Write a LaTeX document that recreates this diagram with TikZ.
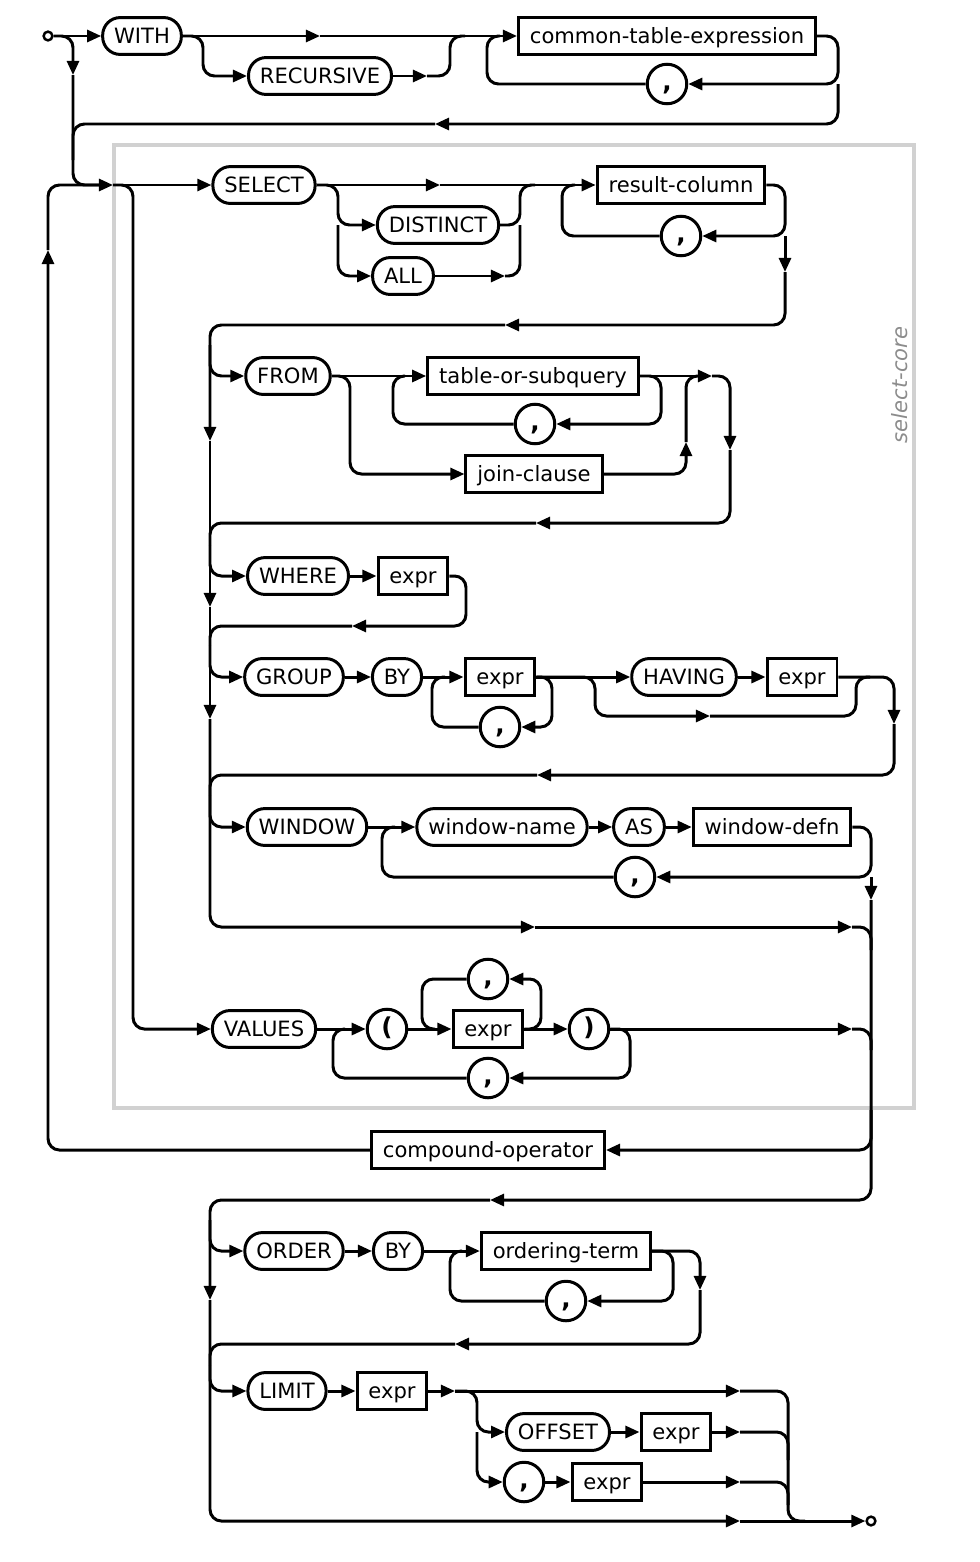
\documentclass[tikz,border=0pt]{standalone}
\usepackage{fontspec}
\setmainfont{DejaVu Sans}
\usetikzlibrary{arrows.meta}
\newcommand\rrfont{\fontsize{12pt}{14pt}\selectfont}
\newcommand\pcfont{\fontsize{14pt}{16pt}\selectfont\bfseries}
\tikzset{
  term/.style={draw, rounded corners=10pt, minimum height=21pt, inner xsep=6.5pt, inner ysep=0pt, text height=11pt, text depth=2pt, line width=1.7pt, font=\rrfont},
  nonterm/.style={draw, rectangle, minimum height=21.5pt, inner xsep=6.5pt, inner ysep=0pt, text height=11pt, text depth=2pt, line width=1.7pt, font=\rrfont},
  punct/.style={draw, circle, minimum size=22.5pt, inner sep=0pt, text height=10.5pt, text depth=3pt, line width=1.7pt, font=\pcfont},
  endpt/.style={draw, circle, minimum size=5pt, inner sep=0pt, line width=1.4pt},
  rail/.style={line width=1.7pt, rounded corners=6.5pt},
  ar/.style={rail, -{Triangle[length=8pt,width=6.8pt]}},
  corebox/.style={draw=black!18, line width=1.8pt},
}
\begin{document}
\begin{tikzpicture}[x=0.02cm,y=-0.02cm]
\useasboundingbox (0,0) rectangle (980,1562);
\draw[corebox] (114,145) rectangle (914,1108);
\node[rotate=90, font=\rrfont\itshape, text=black!45] (corelabel) at (900,385) {select-core};

\node[endpt] (start) at (48,36) {};
\node[term] (with) at (142,36) {WITH};
\node[term] (recursive) at (320,76) {RECURSIVE};
\node[nonterm] (cte) at (667,36) {common-table-expression};
\node[punct] (c1) at (667,84) {,};
\node[term] (select) at (264,185) {SELECT};
\node[term] (distinct) at (438,225) {DISTINCT};
\node[term] (all) at (403,276) {ALL};
\node[nonterm] (rescol) at (681,185) {result-column};
\node[punct] (c2) at (681,236) {,};
\node[term] (from) at (288,376) {FROM};
\node[nonterm] (tos) at (533,376) {table-or-subquery};
\node[punct] (c3) at (535,424) {,};
\node[nonterm] (join) at (534,474) {join-clause};
\node[term] (where) at (298,576) {WHERE};
\node[nonterm] (wexpr) at (413,576) {expr};
\node[term] (group) at (294,677) {GROUP};
\node[term] (gby) at (397,677) {BY};
\node[nonterm] (gexpr) at (500,677) {expr};
\node[punct] (c4) at (500,727) {,};
\node[term] (having) at (684,677) {HAVING};
\node[nonterm] (hexpr) at (802,677) {expr};
\node[term] (window) at (307,827) {WINDOW};
\node[term] (wname) at (502,827) {window-name};
\node[term] (as) at (639,827) {AS};
\node[nonterm] (wdefn) at (772,827) {window-defn};
\node[punct] (c5) at (635,877) {,};
\node[term] (values) at (264,1029) {VALUES};
\node[punct] (lpar) at (387,1029) {(};
\node[nonterm] (vexpr) at (488,1029) {expr};
\node[punct] (c6) at (488,979) {,};
\node[punct] (rpar) at (589,1029) {)};
\node[punct] (c7) at (488,1078) {,};
\node[nonterm] (compop) at (488,1150) {compound-operator};
\node[term] (order) at (294,1251) {ORDER};
\node[term] (oby) at (398,1251) {BY};
\node[nonterm] (oterm) at (566,1251) {ordering-term};
\node[punct] (c8) at (566,1301) {,};
\node[term] (limit) at (287,1391) {LIMIT};
\node[nonterm] (lexpr) at (392,1391) {expr};
\node[term] (offset) at (558,1432) {OFFSET};
\node[nonterm] (oexpr) at (676,1432) {expr};
\node[punct] (c9) at (524,1482) {,};
\node[nonterm] (cexpr) at (607,1482) {expr};
\node[endpt] (finish) at (871,1521) {};

% WITH part
\draw[ar] (start) -- (with);
\draw[ar] (start.east) -| (73,75);
\draw[ar] (73,75) |- (113,185);
\draw[ar] (with) -- (320,36);
\draw[ar] (320,36) -- (cte);
\draw[ar] (with.east) -- (203,36) |- (recursive);
\draw[ar] (recursive) -- (427,76);
\draw[rail] (427,76) -| (450,36) -- (465,36);
\draw[ar] (cte.east) -| (838,84) -- (c1);
\draw[rail] (c1) -| (487,36) -- (500,36);
\draw[ar] (838,84) |- (435,124);
\draw[rail] (435,124) -| (73,160);

% SELECT part
\draw[ar] (113,185) -- (select);
\draw[ar] (select) -- (440,185);
\draw[ar] (440,185) -- (rescol);
\draw[ar] (select.east) -- (338,185) |- (distinct);
\draw[ar] (338,225) |- (all);
\draw[rail] (distinct) -| (520,185) -- (535,185);
\draw[ar] (all) -- (505,276);
\draw[rail] (505,276) -| (520,225);
\draw[ar] (rescol.east) -| (785,236) -- (c2);
\draw[rail] (c2) -| (562,185) -- (575,185);
\draw[ar] (785,236) -- (785,272);
\draw[ar] (785,272) |- (505,325);
\draw[ar] (505,325) -| (210,441);

% FROM
\draw[ar] (210,345) |- (from);
\draw[ar] (from) -- (tos);
\draw[ar] (tos.east) -| (661,424) -- (c3);
\draw[rail] (c3) -| (393,376) -- (405,376);
\draw[ar] (from.east) -- (350,376) |- (join);
\draw[ar] (join) -| (686,442);
\draw[rail] (686,442) |- (700,376);
\draw[ar] (tos) -- (712,376);
\draw[ar] (712,376) -| (730,450);
\draw[ar] (730,450) |- (536,523);
\draw[rail] (536,523) -| (210,545);
\draw[ar] (210,441) -- (210,607);

% WHERE
\draw[ar] (210,545) |- (where);
\draw[ar] (where) -- (wexpr);
\draw[ar] (wexpr.east) -| (466,600) |- (352,626);
\draw[rail] (352,626) -| (210,645);
\draw[ar] (210,607) -- (210,719);

% GROUP BY
\draw[ar] (210,645) |- (group);
\draw[ar] (group) -- (gby);
\draw[ar] (gby) -- (gexpr);
\draw[ar] (gexpr.east) -| (552,727) -- (c4);
\draw[rail] (c4) -| (432,677) -- (445,677);
\draw[ar] (gexpr) -- (having);
\draw[ar] (having) -- (hexpr);
\draw[ar] (gexpr.east) -- (595,677) |- (710,716);
\draw[rail] (710,716) -| (856,677) -- (870,677);
\draw[ar] (hexpr.east) -| (894,724);
\draw[ar] (894,724) |- (537,775);
\draw[rail] (537,775) -| (210,795);

% WINDOW
\draw[ar] (210,795) |- (window);
\draw[ar] (window) -- (wname);
\draw[ar] (wname) -- (as);
\draw[ar] (as) -- (wdefn);
\draw[ar] (wdefn.east) -| (871,877) -- (c5);
\draw[rail] (c5) -| (382,827) -- (395,827);
\draw[ar] (871,877) -- (871,900);
\draw[ar] (210,719) |- (535,927);
\draw[ar] (535,927) -- (852,927);
\draw[rail] (852,927) -| (871,950);

% VALUES
\draw[ar] (113,185) -| (133,1029) -- (values);
\draw[ar] (values) -- (lpar);
\draw[ar] (lpar) -- (vexpr);
\draw[ar] (vexpr.east) -| (541,979) -- (c6);
\draw[rail] (c6) -| (422,1029) -- (435,1029);
\draw[ar] (vexpr) -- (rpar);
\draw[ar] (rpar) -- (852,1029);
\draw[rail] (852,1029) -| (871,1050);
\draw[ar] (rpar.east) -| (630,1078) -- (c7);
\draw[rail] (c7) -| (333,1029) -- (345,1029);

% compound-operator
\draw[ar] (871,1110) |- (compop);
\draw[ar] (compop) -| (48,250);
\draw[rail] (48,250) |- (100,185);
\draw[ar] (871,900) |- (490,1200);

% ORDER BY
\draw[ar] (490,1200) -| (210,1300);
\draw[ar] (210,1220) |- (order);
\draw[ar] (order) -- (oby);
\draw[ar] (oby) -- (oterm);
\draw[ar] (oterm.east) -| (673,1301) -- (c8);
\draw[rail] (c8) -| (450,1251) -- (462,1251);
\draw[ar] (oterm.east) -| (700,1290);
\draw[ar] (700,1290) |- (455,1344);
\draw[rail] (455,1344) -| (210,1365);

% LIMIT
\draw[ar] (210,1365) |- (limit);
\draw[ar] (limit) -- (lexpr);
\draw[ar] (lexpr) -- (455,1391);
\draw[ar] (455,1391) -- (740,1391);
\draw[rail] (740,1391) -| (788,1521) -- (805,1521);
\draw[ar] (455,1391) -- (477,1391) |- (offset);
\draw[ar] (offset) -- (oexpr);
\draw[ar] (oexpr) -- (740,1432);
\draw[rail] (740,1432) -| (788,1460);
\draw[ar] (477,1432) |- (c9);
\draw[ar] (c9) -- (cexpr);
\draw[ar] (cexpr) -- (740,1482);
\draw[rail] (740,1482) -| (788,1505);
\draw[ar] (210,1300) |- (740,1521);
\draw[ar] (740,1521) -- (finish);
\end{tikzpicture}
\end{document}
